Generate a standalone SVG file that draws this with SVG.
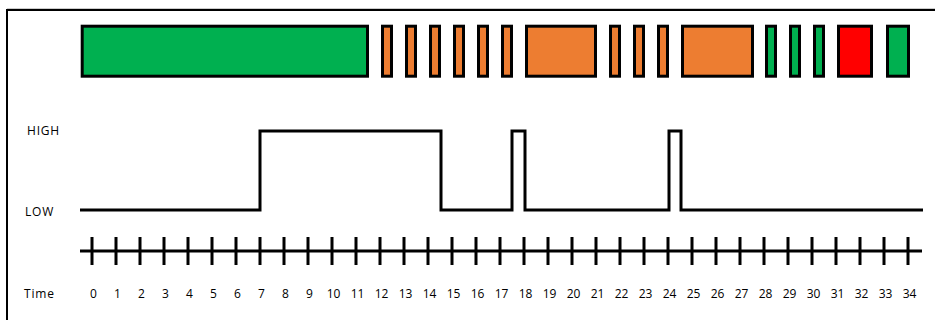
<svg xmlns="http://www.w3.org/2000/svg" width="935" height="320" viewBox="0 0 935 320">
<style>
.bar{stroke:#000;stroke-width:3}
.g{fill:#00B050}.o{fill:#ED7D31}.r{fill:#FF0000}
.sig{fill:none;stroke:#000;stroke-width:3}
.lbl{font-family:"Open Sans",sans-serif;font-size:12px;fill:#000;letter-spacing:0.8px}
.num{font-family:"Open Sans",sans-serif;font-size:12px;fill:#000;text-anchor:middle}
</style>
<rect width="935" height="320" fill="#fff"/>
<g id="frame">
<line x1="7" y1="8.5" x2="935" y2="8.5" stroke="#ccc" stroke-width="1"/>
<path d="M7 320 V10 H935" fill="none" stroke="#000" stroke-width="2"/>
</g>
<g id="bars">
<rect class="bar g" x="82.2" y="26.2" width="285.3" height="50"/>
<rect class="bar o" x="382.5" y="26.2" width="9" height="50"/>
<rect class="bar o" x="406.5" y="26.2" width="9" height="50"/>
<rect class="bar o" x="430.5" y="26.2" width="9" height="50"/>
<rect class="bar o" x="454.5" y="26.2" width="9" height="50"/>
<rect class="bar o" x="478.5" y="26.2" width="9" height="50"/>
<rect class="bar o" x="502.5" y="26.2" width="9" height="50"/>
<rect class="bar o" x="526.5" y="26.2" width="69" height="50"/>
<rect class="bar o" x="610.5" y="26.2" width="9" height="50"/>
<rect class="bar o" x="634.5" y="26.2" width="9" height="50"/>
<rect class="bar o" x="658.5" y="26.2" width="9" height="50"/>
<rect class="bar o" x="682.5" y="26.2" width="70" height="50"/>
<rect class="bar g" x="766.5" y="26.2" width="9" height="50"/>
<rect class="bar g" x="790.5" y="26.2" width="9" height="50"/>
<rect class="bar g" x="814.5" y="26.2" width="9" height="50"/>
<rect class="bar r" x="838.5" y="26.2" width="33" height="50"/>
<rect class="bar g" x="887.5" y="26.2" width="21" height="50"/>
</g>
<g id="signal">
<text class="lbl" x="27" y="135">HIGH</text>
<text class="lbl" x="25" y="216">LOW</text>
<path class="sig" d="M80 210 H260 V131 H441 V210 H512 V131 H525 V210 H669 V131 H681 V210 H923"/>
</g>
<g id="axis">
<line x1="80" y1="251" x2="922" y2="251" stroke="#000" stroke-width="3"/>
<path stroke="#000" stroke-width="3" d="M92 237V265M116 237V265M140 237V265M164 237V265M188 237V265M212 237V265M236 237V265M260 237V265M284 237V265M308 237V265M332 237V265M356 237V265M380 237V265M404 237V265M428 237V265M452 237V265M476 237V265M500 237V265M524 237V265M548 237V265M572 237V265M596 237V265M620 237V265M644 237V265M668 237V265M692 237V265M716 237V265M740 237V265M764 237V265M788 237V265M812 237V265M836 237V265M860 237V265M884 237V265M908 237V265"/>
<text class="lbl" x="24" y="298">Time</text>
<text class="num" y="298"><tspan x="93.5">0</tspan><tspan x="117.5">1</tspan><tspan x="141.5">2</tspan><tspan x="165.5">3</tspan><tspan x="189.5">4</tspan><tspan x="213.5">5</tspan><tspan x="237.5">6</tspan><tspan x="261.5">7</tspan><tspan x="285.5">8</tspan><tspan x="309.5">9</tspan><tspan x="333.5">10</tspan><tspan x="357.5">11</tspan><tspan x="381.5">12</tspan><tspan x="405.5">13</tspan><tspan x="429.5">14</tspan><tspan x="453.5">15</tspan><tspan x="477.5">16</tspan><tspan x="501.5">17</tspan><tspan x="525.5">18</tspan><tspan x="549.5">19</tspan><tspan x="573.5">20</tspan><tspan x="597.5">21</tspan><tspan x="621.5">22</tspan><tspan x="645.5">23</tspan><tspan x="669.5">24</tspan><tspan x="693.5">25</tspan><tspan x="717.5">26</tspan><tspan x="741.5">27</tspan><tspan x="765.5">28</tspan><tspan x="789.5">29</tspan><tspan x="813.5">30</tspan><tspan x="837.5">31</tspan><tspan x="861.5">32</tspan><tspan x="885.5">33</tspan><tspan x="909.5">34</tspan></text>
</g>
</svg>
